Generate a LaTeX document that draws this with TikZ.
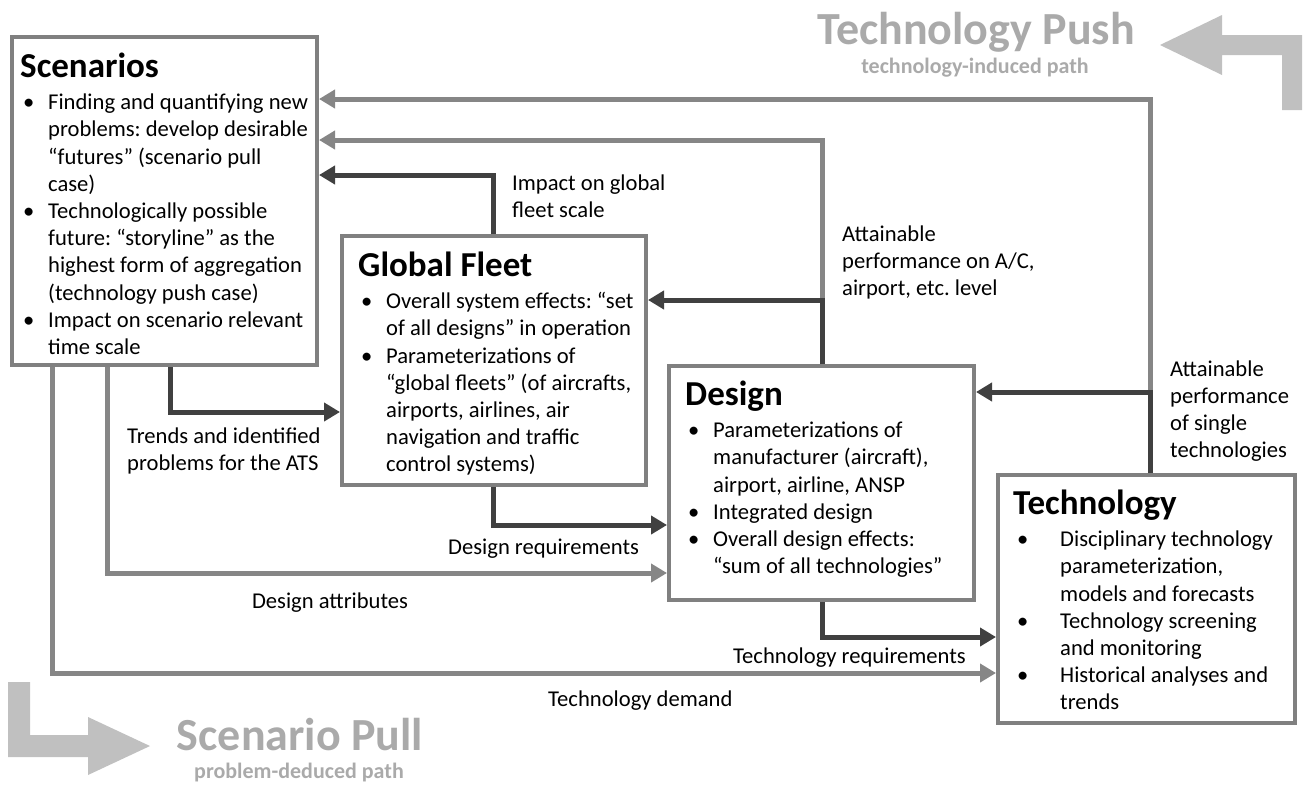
\documentclass[tikz,border=0pt]{standalone}
\usepackage{fontspec}
\setmainfont{Carlito}
\usetikzlibrary{arrows.meta}
\definecolor{boxgray}{RGB}{128,128,128}
\definecolor{linegray}{RGB}{134,134,134}
\definecolor{linedark}{RGB}{64,64,64}
\definecolor{pathgray}{RGB}{192,192,192}
\definecolor{pathtext}{RGB}{170,170,170}
\frenchspacing
\newcommand{\bodyfont}{\fontsize{22.6pt}{27.2pt}\selectfont}
\newcommand{\boxtitle}[1]{{\fontsize{35pt}{42pt}\selectfont\bfseries\rule{0pt}{27pt}#1}\\[5.3pt]}
\newcommand{\bul}{\makebox[28pt][l]{\hspace{3pt}\textbullet}}
\newcommand{\cont}{\hspace*{28pt}}
\newcommand{\bulw}{\makebox[47pt][l]{\hspace{4pt}\textbullet}}
\newcommand{\contw}{\hspace*{47pt}}
\tikzset{block/.style={draw=boxgray,line width=4pt,fill=white,anchor=north west},
 blocktext/.style={anchor=north west,align=left,inner sep=0pt,font=\bodyfont},
 linknote/.style={anchor=north west,align=left,inner sep=0pt,font=\bodyfont},
 linkword/.style={anchor=base west,inner sep=0pt,font=\bodyfont},
 gline/.style={draw=linegray,line width=5pt,-{Triangle[length=16pt,width=18pt]}},
 dline/.style={gline,draw=linedark},
 pathtitle/.style={text=pathtext,font=\fontsize{46pt}{50pt}\selectfont\bfseries,anchor=base},
 pathsub/.style={text=pathtext,font=\fontsize{22pt}{25pt}\selectfont\bfseries,anchor=base}}

\begin{document}
\begin{tikzpicture}[x=1pt,y=-1pt]
\useasboundingbox (0,0) rectangle (1305,785);

% push and pull paths
\fill[pathgray] (1160,45) -- (1222,15) -- (1222,35) -- (1302,35) -- (1302,110)
 -- (1282,110) -- (1282,55) -- (1222,55) -- (1222,75) -- cycle;
\fill[pathgray] (8,682) -- (30,682) -- (30,735) -- (88,735) -- (88,717)
 -- (150,746) -- (88,775) -- (88,757) -- (8,757) -- cycle;
\node[pathtitle] (push) at (976,44) {Technology Push};
\node[pathsub] (pushsub) at (975,73) {technology-induced path};
\node[pathtitle] (pull) at (300,750) {Scenario Pull};
\node[pathsub] (pullsub) at (299,778) {problem-deduced path};

% the four levels
\node[block,minimum width=305pt,minimum height=328pt] (scen) at (10,35) {};
\node[block,minimum width=304pt,minimum height=249pt] (fleet) at (340,234) {};
\node[block,minimum width=305pt,minimum height=234pt] (design) at (667,364) {};
\node[block,minimum width=297pt,minimum height=248pt] (tech) at (996,473) {};

\node[blocktext] (scentext) at ([xshift=10pt,yshift=-15pt]scen.north west) {%
\boxtitle{Scenarios}
\bul Finding and quantifying new\\
\cont problems: develop desirable\\
\cont “futures” (scenario pull\\
\cont case)\\
\bul Technologically possible\\
\cont future: “storyline” as the\\
\cont highest form of aggregation\\
\cont (technology push case)\\
\bul Impact on scenario relevant\\
\cont time scale};
\node[blocktext] (fleettext) at ([xshift=18pt,yshift=-15pt]fleet.north west) {%
\boxtitle{Global Fleet}
\bul Overall system effects: “set\\
\cont of all designs” in operation\\
\bul Parameterizations of\\
\cont “global fleets” (of aircrafts,\\
\cont airports, airlines, air\\
\cont navigation and traffic\\
\cont control systems)};
\node[blocktext] (designtext) at ([xshift=18pt,yshift=-14pt]design.north west) {%
\boxtitle{Design}
\bul Parameterizations of\\
\cont manufacturer (aircraft),\\
\cont airport, airline, ANSP\\
\bul Integrated design\\
\bul Overall design effects:\\
\cont “sum of all technologies”};
\node[blocktext] (techtext) at ([xshift=17pt,yshift=-14pt]tech.north west) {%
\boxtitle{Technology}
\bulw Disciplinary technology\\
\contw parameterization,\\
\contw models and forecasts\\
\bulw Technology screening\\
\contw and monitoring\\
\bulw Historical analyses and\\
\contw trends};

% feedback upwards
\draw[gline] ([xshift=154pt]tech.north west) |- ([yshift=-64pt]scen.north east);
\draw[gline] ([xshift=155pt]design.north west) |- ([yshift=-105pt]scen.north east);
\draw[dline] ([xshift=154pt]tech.north west) |- ([yshift=-28pt]design.north east);
\draw[dline] ([xshift=155pt]design.north west) |- ([yshift=-66pt]fleet.north east);
\draw[dline] ([xshift=153pt]fleet.north west) |- ([yshift=-140pt]scen.north east);

% requirements downwards
\draw[gline] ([xshift=97pt]scen.south west) |- ([yshift=-209pt]design.north west);
\draw[gline] ([xshift=42pt]scen.south west) |- ([yshift=-200pt]tech.north west);
\draw[dline] ([xshift=160pt]scen.south west) |- ([yshift=-178pt]fleet.north west);
\draw[dline] ([xshift=153pt]fleet.south west) |- ([yshift=-161pt]design.north west);
\draw[dline] ([xshift=155pt]design.south west) |- ([yshift=-164pt]tech.north west);

% labels
\node[linknote] (impact) at (512,171) {\strut Impact on global\\fleet scale};
\node[linknote] (attainac) at (842,222) {\strut Attainable\\performance on A/C,\\airport, etc. level};
\node[linknote] (attainsingle) at (1170,357) {\strut Attainable\\performance\\of single\\technologies};
\node[linknote] (trends) at (127,424) {\strut Trends and identified\\problems for the ATS};
\node[linkword] (designreq) at (448,554) {Design requirements};
\node[linkword,anchor=base] (designattr) at (330,608) {Design attributes};
\node[linkword] (techreq) at (733,663) {Technology requirements};
\node[linkword] (techdemand) at (548,706) {Technology demand};
\end{tikzpicture}
\end{document}
